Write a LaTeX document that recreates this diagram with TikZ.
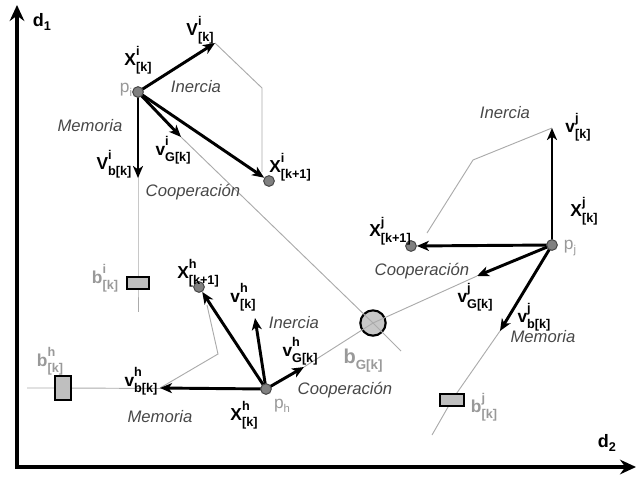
\documentclass[tikz,border=0pt]{standalone}
\usepackage{fontspec}
\setmainfont{Liberation Sans}
\usetikzlibrary{arrows.meta}
\newcommand\vl[3]{#1\makebox[0pt][l]{\raisebox{0.55em}{\fontsize{9.5}{10}\selectfont #2}}\raisebox{-0.35em}{\fontsize{9.5}{10}\selectfont #3}}
\newcommand\pl[1]{p\raisebox{-0.2em}{\fontsize{8.5}{9}\selectfont #1}}
\begin{document}
\begin{tikzpicture}[x=0.75pt,y=-0.75pt,
  vec/.style={line width=2.2pt,-{Stealth[length=9pt,width=7.5pt,inset=2.5pt]}},
  axis/.style={line width=3.2pt,{Stealth[length=12pt,width=11pt,inset=4pt]}-{Stealth[length=12pt,width=11pt,inset=4pt]},line join=miter},
  guide/.style={draw=black!33,line width=0.7pt},
  pt/.style={circle,draw=black!70,fill=black!50,line width=0.8pt,minimum size=8pt,inner sep=0pt},
  bbox/.style={draw=black,line width=1.5pt,fill=black!25,inner sep=0pt},
  tx/.style={font=\fontsize{12.5}{14}\selectfont\itshape,text=black!72},
  vlab/.style={font=\fontsize{13}{14}\selectfont\bfseries},
  glab/.style={font=\fontsize{13}{14}\selectfont\bfseries,text=black!40},
  plab/.style={font=\fontsize{13}{14}\selectfont,text=black!40}]
\useasboundingbox (0,0) rectangle (637,476);

% axes
\coordinate (o) at (17,467);
\coordinate (d1) at (17,5);
\coordinate (d2) at (636,467);
\draw[axis] (d1) -- (o) -- (d2);
\node[vlab,font=\fontsize{13.5}{14}\selectfont\bfseries] (d1l) at (42,22) {d\raisebox{-0.25em}{\fontsize{9.5}{10}\selectfont 1}};
\node[vlab,font=\fontsize{13.5}{14}\selectfont\bfseries] (d2l) at (607,443) {d\raisebox{-0.25em}{\fontsize{9.5}{10}\selectfont 2}};

% key coordinates
\coordinate (pi) at (138,92);
\coordinate (vi) at (215,43);
\coordinate (vGi) at (181,137);
\coordinate (vbi) at (138,178);
\coordinate (iC1) at (262,88);
\coordinate (iC2) at (262,172);
\coordinate (bi) at (138,283);
\coordinate (iEnd) at (138,312);
\coordinate (bGc) at (373,323);
\coordinate (iCend) at (401,351);

\coordinate (pj) at (552,245);
\coordinate (vj) at (552,128);
\coordinate (vGj) at (477,276);
\coordinate (vbj) at (500,331);
\coordinate (jC1) at (473,160);
\coordinate (jC2) at (427,233);
\coordinate (bj) at (452,400);
\coordinate (jEnd) at (432,435);

\coordinate (ph) at (266,389);
\coordinate (vh) at (255,318);
\coordinate (vGh) at (304,367);
\coordinate (vbh) at (160,388);
\coordinate (hC1) at (218,354);
\coordinate (hC2) at (207,305);
\coordinate (bh) at (63,388);
\coordinate (hEnd) at (27,388);

% global best
\node[circle,draw=black,line width=1.6pt,fill=black!22,minimum size=19pt,inner sep=0pt] (bG) at (bGc) {};

% guide lines
\draw[guide] (pi) -- (bi) -- (iEnd);
\draw[guide] (vGi) -- (bG.center) -- (iCend);
\draw[guide] (vi) -- (iC1) -- (iC2);
\draw[guide] (pj) -- (vbj) -- (bj) -- (jEnd);
\draw[guide] (vGj) -- (bG.center) -- (vGh);
\draw[guide] (vj) -- (jC1) -- (jC2);
\draw[guide] (ph) -- (bh) -- (hEnd);
\draw[guide] (vbh) -- (hC1) -- (hC2);

% boxes (personal bests)
\node[bbox,minimum width=17pt,minimum height=9.5pt] (biB) at (bi) {};
\node[bbox,minimum width=17.5pt,minimum height=9.5pt] (bjB) at (bj) {};
\node[bbox,minimum width=12.5pt,minimum height=17.5pt] (bhB) at (bh) {};

% points
\node[pt] (xi1) at (269,181) {};
\node[pt] (xj1) at (411,246) {};
\node[pt] (xh1) at (199,287) {};

% vectors particle i
\draw[vec] (pi) -- (vi);
\draw[vec] (pi) -- (vGi);
\draw[vec] (pi) -- (vbi);
\draw[vec] (pi) -- (xi1);
% vectors particle j
\draw[vec] (pj) -- (vj);
\draw[vec] (pj) -- (vGj);
\draw[vec] (pj) -- (vbj);
\draw[vec] (pj) -- (xj1);
% vectors particle h
\draw[vec] (ph) -- (vh);
\draw[vec] (ph) -- (vGh);
\draw[vec] (ph) -- (vbh);
\draw[vec] (ph) -- (xh1);

\node[pt] (piN) at (pi) {};
\node[pt] (pjN) at (pj) {};
\node[pt] (phN) at (ph) {};

% labels particle i
\node[vlab] (lxi) at (138,60) {\vl{X}{i}{[k]}};
\node[vlab] (lvi) at (200,30) {\vl{V}{i}{[k]}};
\node[plab] (lpi) at (126,90) {\pl{i}};
\node[tx] (li1) at (196,87) {Inercia};
\node[tx] (lm1) at (90,126) {Memoria};
\node[vlab] (lvGi) at (173,150) {\vl{v}{i}{G[k]}};
\node[vlab] (lvbi) at (114,164) {\vl{V}{i}{b[k]}};
\node[vlab] (lxi1) at (290,167) {\vl{X}{i}{[k+1]}};
\node[tx] (lc1) at (193,192) {Cooperación};
\node[glab] (lbi) at (105,278) {\vl{b}{i}{[k]}};

% labels particle j
\node[tx] (li2) at (505,113) {Inercia};
\node[vlab] (lvj) at (578,127) {\vl{v}{j}{[k]}};
\node[vlab] (lxj) at (584,211) {\vl{X}{j}{[k]}};
\node[plab] (lpj) at (570,248) {\pl{j}};
\node[vlab] (lxj1) at (390,231) {\vl{X}{j}{[k+1]}};
\node[tx] (lc2) at (422,271) {Cooperación};
\node[vlab] (lvGj) at (475,297) {\vl{v}{j}{G[k]}};
\node[vlab] (lvbj) at (534,317) {\vl{v}{j}{b[k]}};
\node[tx] (lm2) at (543,337) {Memoria};
\node[glab] (lbj) at (484,407) {\vl{b}{j}{[k]}};
\node[glab,font=\fontsize{15}{16}\selectfont\bfseries] (lbG) at (363,361) {b\raisebox{-0.3em}{\fontsize{10}{10}\selectfont G[k]}};

% labels particle h
\node[vlab] (lxh1) at (198,273) {\vl{X}{h}{[k+1]}};
\node[vlab] (lvh) at (243,297) {\vl{v}{h}{[k]}};
\node[tx] (li3) at (294,323) {Inercia};
\node[vlab] (lvGh) at (300,351) {\vl{v}{h}{G[k]}};
\node[tx] (lc3) at (345,390) {Cooperación};
\node[vlab] (lxh) at (244,415) {\vl{X}{h}{[k]}};
\node[plab] (lph) at (282,406) {\pl{h}};
\node[tx] (lm3) at (160,417) {Memoria};
\node[vlab] (lvbh) at (141,381) {\vl{v}{h}{b[k]}};
\node[glab] (lbh) at (50,361) {\vl{b}{h}{[k]}};
\end{tikzpicture}
\end{document}
